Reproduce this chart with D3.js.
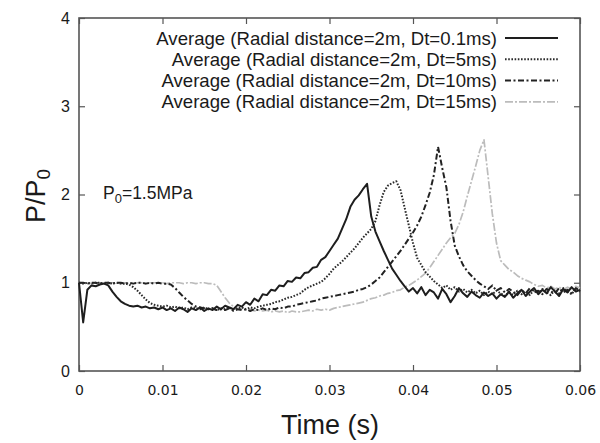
<!DOCTYPE html>
<html lang="en">
<head>
<meta charset="UTF-8" />
<title>P/P0 vs Time</title>
<script src="https://d3js.org/d3.v7.min.js"></script>
<style>
  body { margin: 0; background: #fff; }
  text { font-family: "Liberation Sans", Arial, sans-serif; fill: #1a1a1a; }
  .xaxis text { font-family: "DejaVu Sans", sans-serif; font-size: 14px; }
  .yaxis text { font-size: 16px; }
</style>
</head>
<body>
<div id="chart"></div>
<script>
// time grid in ms (read every 0.5 ms)
const timeMs = [
  0, 0.5, 1, 1.5, 2, 2.5, 3, 3.5, 4, 4.5,
  5, 5.5, 6, 6.5, 7, 7.5, 8, 8.5, 9, 9.5,
  10, 10.5, 11, 11.5, 12, 12.5, 13, 13.5, 14, 14.5,
  15, 15.5, 16, 16.5, 17, 17.5, 18, 18.5, 19, 19.5,
  20, 20.5, 21, 21.5, 22, 22.5, 23, 23.5, 24, 24.5,
  25, 25.5, 26, 26.5, 27, 27.5, 28, 28.5, 29, 29.5,
  30, 30.5, 31, 31.5, 32, 32.5, 33, 33.5, 34, 34.5,
  35, 35.5, 36, 36.5, 37, 37.5, 38, 38.5, 39, 39.5,
  40, 40.5, 41, 41.5, 42, 42.5, 43, 43.5, 44, 44.5,
  45, 45.5, 46, 46.5, 47, 47.5, 48, 48.5, 49, 49.5,
  50, 50.5, 51, 51.5, 52, 52.5, 53, 53.5, 54, 54.5,
  55, 55.5, 56, 56.5, 57, 57.5, 58, 58.5, 59, 59.5,
  60
];

const avgDt01 = [
  1.00, 0.55, 0.92, 0.97, 0.96, 0.98, 0.99, 0.97, 0.90, 0.84,
  0.79, 0.76, 0.74, 0.73, 0.74, 0.72, 0.73, 0.71, 0.72, 0.70,
  0.72, 0.69, 0.71, 0.68, 0.72, 0.70, 0.67, 0.71, 0.69, 0.72,
  0.68, 0.71, 0.69, 0.73, 0.70, 0.74, 0.72, 0.70, 0.75, 0.73,
  0.78, 0.75, 0.82, 0.79, 0.87, 0.86, 0.92, 0.91, 0.97, 0.96,
  1.02, 1.01, 1.06, 1.05, 1.11, 1.12, 1.17, 1.18, 1.26, 1.29,
  1.36, 1.43, 1.50, 1.61, 1.72, 1.86, 1.94, 1.99, 2.06, 2.12,
  1.75, 1.58, 1.47, 1.36, 1.26, 1.16, 1.09, 1.02, 0.96, 0.90,
  0.94, 0.88, 0.95, 0.86, 0.92, 0.89, 0.82, 0.93, 0.87, 0.78,
  0.85, 0.94, 0.88, 0.84, 0.90, 0.86, 0.83, 0.89, 0.85, 0.88,
  0.82, 0.87, 0.84, 0.90, 0.83, 0.88, 0.92, 0.85, 0.90, 0.94,
  0.87, 0.92, 0.88, 0.95, 0.90, 0.85, 0.93, 0.89, 0.95, 0.90,
  0.92
];

const avgDt5 = [
  1.00, 0.99, 1.00, 0.99, 1.00, 1.00, 0.99, 1.00, 0.99, 1.00,
  0.99, 0.99, 0.98, 0.95, 0.91, 0.86, 0.81, 0.77, 0.75, 0.74,
  0.73, 0.74, 0.72, 0.73, 0.71, 0.72, 0.70, 0.72, 0.71, 0.70,
  0.72, 0.70, 0.71, 0.69, 0.71, 0.70, 0.72, 0.70, 0.71, 0.72,
  0.70, 0.72, 0.71, 0.73, 0.74, 0.75, 0.76, 0.78, 0.79, 0.81,
  0.83, 0.84, 0.86, 0.88, 0.92, 0.95, 0.97, 0.99, 1.01, 1.05,
  1.10, 1.16, 1.20, 1.24, 1.29, 1.34, 1.39, 1.45, 1.51, 1.56,
  1.61, 1.70, 1.88, 2.03, 2.10, 2.13, 2.15, 2.05, 1.85, 1.65,
  1.45, 1.28, 1.20, 1.12, 1.07, 1.02, 0.98, 0.94, 0.97, 0.92,
  0.95, 0.90, 0.93, 0.89, 0.92, 0.88, 0.91, 0.86, 0.90, 0.87,
  0.91, 0.88, 0.85, 0.89, 0.86, 0.91, 0.87, 0.90, 0.86, 0.92,
  0.88, 0.93, 0.89, 0.86, 0.92, 0.88, 0.94, 0.90, 0.87, 0.93,
  0.90
];

const avgDt10 = [
  1.00, 1.00, 0.99, 1.00, 1.00, 0.99, 1.00, 1.00, 0.99, 1.00,
  1.00, 0.99, 1.00, 0.99, 1.00, 1.00, 0.99, 1.00, 0.99, 1.00,
  0.99, 0.99, 0.98, 0.94, 0.89, 0.84, 0.80, 0.76, 0.73, 0.72,
  0.71, 0.70, 0.71, 0.69, 0.70, 0.69, 0.71, 0.68, 0.70, 0.69,
  0.70, 0.68, 0.70, 0.69, 0.71, 0.69, 0.71, 0.70, 0.72, 0.71,
  0.73, 0.73, 0.75, 0.76, 0.77, 0.78, 0.79, 0.80, 0.82, 0.83,
  0.84, 0.85, 0.86, 0.87, 0.88, 0.89, 0.90, 0.92, 0.93, 0.95,
  0.98, 1.02, 1.06, 1.12, 1.18, 1.24, 1.30, 1.36, 1.43, 1.50,
  1.57, 1.65, 1.75, 1.88, 2.02, 2.22, 2.54, 2.30, 2.08, 1.70,
  1.42, 1.30, 1.20, 1.13, 1.08, 1.03, 0.99, 0.96, 0.93, 0.97,
  0.91, 0.94, 0.89, 0.93, 0.90, 0.86, 0.92, 0.88, 0.94, 0.89,
  0.91, 0.87, 0.93, 0.90, 0.88, 0.94, 0.89, 0.92, 0.88, 0.94,
  0.91
];

const avgDt15 = [
  1.00, 1.00, 1.00, 0.99, 1.00, 1.00, 1.00, 0.99, 1.00, 1.00,
  1.00, 1.00, 0.99, 1.00, 1.00, 1.00, 0.99, 1.00, 1.00, 1.00,
  1.00, 0.99, 1.00, 1.00, 1.00, 0.99, 1.00, 1.00, 0.99, 1.00,
  1.00, 0.99, 0.99, 0.97, 0.90, 0.83, 0.77, 0.73, 0.71, 0.70,
  0.69, 0.70, 0.68, 0.69, 0.68, 0.69, 0.67, 0.68, 0.67, 0.68,
  0.66, 0.68, 0.67, 0.67, 0.68, 0.69, 0.68, 0.70, 0.69, 0.70,
  0.69, 0.71, 0.72, 0.73, 0.74, 0.75, 0.76, 0.77, 0.78, 0.80,
  0.82, 0.83, 0.85, 0.86, 0.88, 0.89, 0.91, 0.92, 0.95, 0.97,
  1.00, 1.03, 1.07, 1.11, 1.17, 1.24, 1.31, 1.38, 1.45, 1.51,
  1.56, 1.66, 1.80, 1.98, 2.15, 2.32, 2.50, 2.62, 2.20, 1.78,
  1.45, 1.25, 1.20, 1.15, 1.12, 1.08, 1.05, 1.03, 1.01, 0.98,
  0.96, 0.97, 0.94, 0.96, 0.93, 0.95, 0.92, 0.95, 0.93, 0.96,
  0.94
];

const seriesLabels = [
  "Average (Radial distance=2m, Dt=0.1ms)",
  "Average (Radial distance=2m, Dt=5ms)",
  "Average (Radial distance=2m, Dt=10ms)",
  "Average (Radial distance=2m, Dt=15ms)"
];
const xTicks = [0, 0.01, 0.02, 0.03, 0.04, 0.05, 0.06];
const yTicks = [0, 1, 2, 3, 4];

const series = [
  { label: seriesLabels[0], values: avgDt01, color: "#1e1e1e", dash: null, width: 2 },
  { label: seriesLabels[1], values: avgDt5, color: "#2a2a2a", dash: "1.6,1.6", width: 2 },
  { label: seriesLabels[2], values: avgDt10, color: "#222", dash: "6,2.5,2,2.5", width: 2 },
  { label: seriesLabels[3], values: avgDt15, color: "#bcbcbc", dash: "8,2,2,2", width: 1.7 }
];

const fullW = 600, fullH = 443;
const margins = { top: 18, right: 20, bottom: 72, left: 79 };
const width = fullW - margins.left - margins.right;
const height = fullH - margins.top - margins.bottom;

const svg = d3.select("#chart").append("svg")
  .attr("width", fullW)
  .attr("height", fullH);

const g = svg.append("g")
  .attr("transform", `translate(${margins.left},${margins.top})`);

const x = d3.scaleLinear().domain([0, 0.06]).range([0, width]);
const y = d3.scaleLinear().domain([0, 4]).range([height, 0]);

const axisColor = "#555";

// axes, ticks pointing inward on all four sides
const xAxis = g.append("g").attr("class", "xaxis")
  .attr("transform", `translate(0,${height})`)
  .call(d3.axisBottom(x).tickValues(xTicks).tickSizeInner(-6).tickSizeOuter(0)
    .tickPadding(14).tickFormat(d => d === 0 ? "0" : d3.format(".2f")(d)));
const xTop = g.append("g")
  .call(d3.axisTop(x).tickValues(xTicks).tickSizeInner(-6).tickSizeOuter(0).tickFormat(""));
const yAxis = g.append("g").attr("class", "yaxis")
  .call(d3.axisLeft(y).tickValues(yTicks).tickSizeInner(-6).tickSizeOuter(0)
    .tickPadding(9).tickFormat(d3.format("d")));
const yRight = g.append("g")
  .attr("transform", `translate(${width},0)`)
  .call(d3.axisRight(y).tickValues(yTicks).tickSizeInner(-6).tickSizeOuter(0).tickFormat(""));

[xAxis, xTop, yAxis, yRight].forEach(a => {
  a.select(".domain").remove();
  a.selectAll(".tick line").attr("stroke", axisColor).attr("stroke-width", 1.2);
});

g.append("rect")
  .attr("width", width)
  .attr("height", height)
  .attr("fill", "none")
  .attr("stroke", axisColor)
  .attr("stroke-width", 1.6);

const line = d3.line()
  .x((d, i) => x(timeMs[i] / 1000))
  .y(d => y(d));

// draw lightest first so dark curves sit on top
series.slice().reverse().forEach(s => {
  g.append("path")
    .datum(s.values)
    .attr("fill", "none")
    .attr("stroke", s.color)
    .attr("stroke-width", s.width)
    .attr("stroke-dasharray", s.dash)
    .attr("stroke-linejoin", "round")
    .attr("d", line);
});

// legend
const legend = svg.append("g").attr("transform", "translate(497,38)");
series.forEach((s, i) => {
  const row = legend.append("g").attr("transform", `translate(0,${i * 21.3})`);
  row.append("text")
    .attr("text-anchor", "end")
    .attr("dy", "0.35em")
    .style("font-size", "18.6px")
    .text(s.label);
  row.append("line")
    .attr("x1", 8).attr("x2", 61)
    .attr("stroke", s.color)
    .attr("stroke-width", s.width)
    .attr("stroke-dasharray", s.dash);
});

// P0 annotation
const note = svg.append("text")
  .attr("x", 103).attr("y", 199)
  .style("font-size", "17.5px");
note.append("tspan").text("P");
note.append("tspan").attr("dy", 4).style("font-size", "13px").text("0");
note.append("tspan").attr("dy", -4).text("=1.5MPa");

// axis titles
svg.append("text")
  .attr("x", 330).attr("y", 434)
  .attr("text-anchor", "middle")
  .style("font-size", "27px")
  .text("Time (s)");

const yTitle = svg.append("text")
  .attr("transform", "translate(45,196) rotate(-90)")
  .attr("text-anchor", "middle")
  .style("font-size", "27px");
yTitle.append("tspan").text("P/P");
yTitle.append("tspan").attr("dy", 5).style("font-size", "19px").text("0");
</script>
</body>
</html>
